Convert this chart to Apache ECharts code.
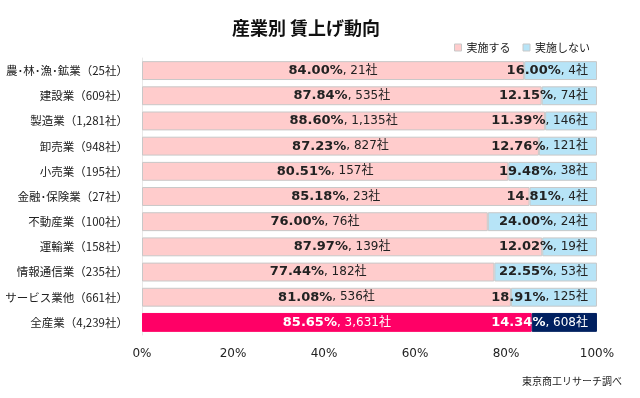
<!DOCTYPE html>
<html><head><meta charset="utf-8">
<script src="https://cdn.jsdelivr.net/npm/echarts@6/dist/echarts.min.js"></script>
<style>html,body{margin:0;padding:0;background:#fff}#c{width:640px;height:398px}</style>
</head><body><div id="c"></div>
<script>
const categories = ['農･林･漁･鉱業（25社）','建設業（609社）','製造業（1,281社）','卸売業（948社）','小売業（195社）','金融･保険業（27社）','不動産業（100社）','運輸業（158社）','情報通信業（235社）','サービス業他（661社）','全産業（4,239社）'];
const yesPct = [84.00, 87.84, 88.60, 87.23, 80.51, 85.18, 76.00, 87.97, 77.44, 81.08, 85.65];
const yesCnt = ['21', '535', '1,135', '827', '157', '23', '76', '139', '182', '536', '3,631'];
const noPct = [16.00, 12.15, 11.39, 12.76, 19.48, 14.81, 24.00, 12.02, 22.55, 18.91, 14.34];
const noCnt = ['4', '74', '146', '121', '38', '4', '24', '19', '53', '125', '608'];
const xTicks = [0, 20, 40, 60, 80, 100];

const FONT = '"DejaVu Sans", "Noto Sans CJK JP", sans-serif';
const JFONT = '"Noto Sans CJK JP", sans-serif';
const last = categories.length - 1;
function mk(pcts, cnts, color, lastColor, pos, dist) {
  return pcts.map((v, i) => ({
    value: v,
    itemStyle: { color: i === last ? lastColor : color, borderColor: i === last ? lastColor : '#c8c8c8', borderWidth: 1 },
    label: {
      show: true, position: pos, distance: dist,
      formatter: '{b|' + v.toFixed(2) + '%}{n|, ' + cnts[i] + '社}',
      rich: {
        b: { fontWeight: 'bold', fontSize: 13, color: i === last ? '#fff' : '#222', fontFamily: FONT },
        n: { fontSize: 12, color: i === last ? '#fff' : '#222', fontFamily: FONT }
      }
    }
  }));
}
const chart = echarts.init(document.getElementById('c'), null, { renderer: 'canvas' });
chart.setOption({
  animation: false,
  textStyle: { fontFamily: FONT },
  title: { text: '産業別 賃上げ動向', left: 301, top: 14, textAlign: 'center',
    textStyle: { fontSize: 18, fontWeight: 'bold', color: '#111', fontFamily: JFONT } },
  legend: { right: 45, top: 37, itemWidth: 7, itemHeight: 7, itemGap: 12, icon: 'rect',
    textStyle: { fontSize: 11, color: '#222', fontFamily: JFONT },
    data: [{ name: '実施する', itemStyle: { color: '#FFCCCC', borderColor: '#c8c8c8', borderWidth: 1 } },
           { name: '実施しない', itemStyle: { color: '#B7E4F7', borderColor: '#c8c8c8', borderWidth: 1 } }] },
  grid: { left: 142, right: 43, top: 58, bottom: 63, outerBoundsMode: 'none', containLabel: false },
  xAxis: { type: 'value', min: 0, max: 100, interval: 20,
    axisLabel: { formatter: v => v + '%', fontSize: 12, color: '#222', margin: 13, fontFamily: FONT },
    splitLine: { show: false }, axisLine: { show: false }, axisTick: { show: false } },
  yAxis: { type: 'category', data: categories, inverse: true,
    axisLabel: { fontSize: 11.5, color: '#222', margin: 14, fontFamily: JFONT },
    axisLine: { show: true, lineStyle: { color: '#e8e8e8' } }, axisTick: { show: false } },
  series: [
    { name: '実施する', type: 'bar', stack: 's', barWidth: '75%', data: mk(yesPct, yesCnt, '#FFCCCC', '#FF0066', 'inside', 5) },
    { name: '実施しない', type: 'bar', stack: 's', barWidth: '75%', data: mk(noPct, noCnt, '#B7E4F7', '#002060', 'insideRight', 9) }
  ],
  graphic: [{ type: 'text', right: 18, top: 376, style: { text: '東京商工リサーチ調べ', fill: '#222', font: '10px ' + JFONT } }]
});
</script></body></html>
